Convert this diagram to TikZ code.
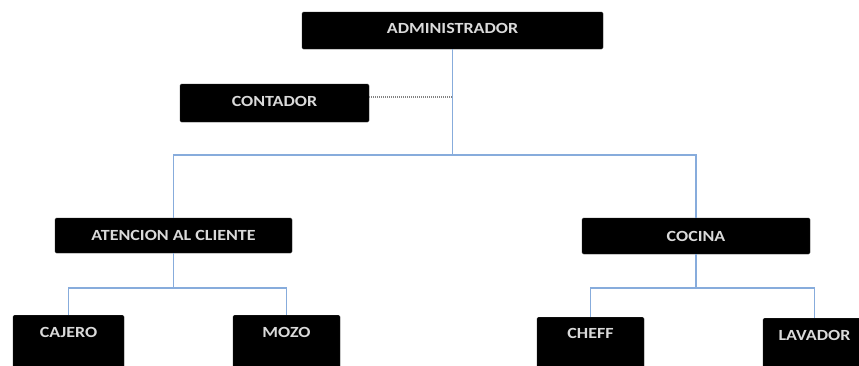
\documentclass[tikz,border=0pt]{standalone}
\usepackage{fontspec}
\setmainfont{Carlito}[FakeStretch=1.16]
\usetikzlibrary{calc}
\definecolor{linkblue}{RGB}{135,172,220}
\definecolor{boxtext}{RGB}{218,218,218}
\definecolor{dotgray}{RGB}{130,130,130}
\tikzset{
  orgbox/.style={rectangle, rounded corners=1.5pt, fill=black, draw=black!85,
    text=boxtext, font=\fontsize{15.5}{17}\selectfont\bfseries, inner sep=0pt},
  link/.style={draw=linkblue, line width=1.3pt},
  dotlink/.style={draw=dotgray, line width=1.6pt, dash pattern=on 1.2pt off 0.8pt},
  lbl/.style={text=boxtext, font=\fontsize{15.5}{17}\selectfont\bfseries}
}
\begin{document}
\begin{tikzpicture}[x=1pt, y=-1pt]
  \clip (0,0) rectangle (859,365);
  \fill[white] (0,0) rectangle (859,365);

  % top levels
  \node[orgbox, minimum width=301pt, minimum height=37pt] (admin) at (452.5,30.5) {};
  \node[lbl] (admint) at ($(admin.center)+(0,-2.5)$) {ADMINISTRADOR};
  \node[orgbox, minimum width=189pt, minimum height=38pt] (contador) at (274.5,103) {};
  \node[lbl] (contadort) at ($(contador.center)+(0,-1.5)$) {CONTADOR};
  \node[orgbox, minimum width=237pt, minimum height=35pt] (atencion) at (173.5,235.5) {ATENCION AL CLIENTE};
  \node[orgbox, minimum width=228pt, minimum height=36pt] (cocina) at (696,236) {COCINA};

  % bottom level (boxes run past the lower edge)
  \node[orgbox, anchor=north, minimum width=111pt, minimum height=70pt] (cajero) at (68.5,315) {};
  \node[lbl] (cajerot) at ($(cajero.north)+(0,17)$) {CAJERO};
  \node[orgbox, anchor=north, minimum width=107pt, minimum height=70pt] (mozo) at (286.5,315) {};
  \node[lbl] (mozot) at ($(mozo.north)+(0,17)$) {MOZO};
  \node[orgbox, anchor=north, minimum width=107pt, minimum height=70pt] (cheff) at (590.5,317) {};
  \node[lbl] (chefft) at ($(cheff.north)+(0,16)$) {CHEFF};
  \node[orgbox, anchor=north, minimum width=103pt, minimum height=70pt] (lavador) at (814.5,318) {};
  \node[lbl] (lavadort) at ($(lavador.north)+(0,17)$) {LAVADOR};

  % junction points
  \coordinate (hub) at (452.5,155);
  \coordinate (dotend) at (452.5,97);
  \coordinate (busA) at (173.5,288);
  \coordinate (busC) at (696,288);

  % connectors
  \draw[link] (admin.south) -- (hub);
  \draw[link] (atencion.north) |- (hub) -| (cocina.north);
  \draw[dotlink] (contador.east |- dotend) -- (dotend);
  \draw[link] (atencion.south) -- (busA);
  \draw[link] (cajero.north) |- (busA) -| (mozo.north);
  \draw[link] (cocina.south) -- (busC);
  \draw[link] (cheff.north) |- (busC) -| (lavador.north);
\end{tikzpicture}
\end{document}
